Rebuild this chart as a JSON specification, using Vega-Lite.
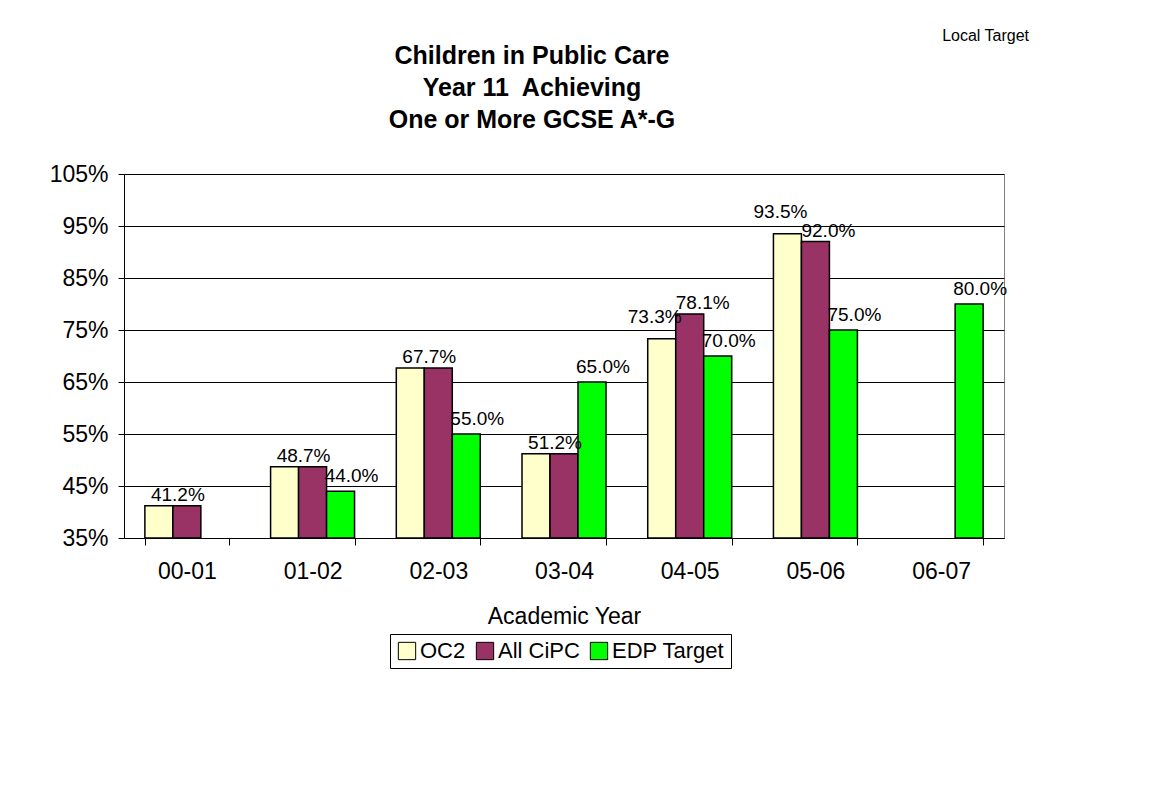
{
  "$schema": "https://vega.github.io/schema/vega-lite/v6.json",
  "background": "white",
  "padding": {"left": 48, "top": 27, "right": 10, "bottom": 10},
  "title": {"text": "Local Target", "anchor": "end", "frame": "group", "fontSize": 16, "fontWeight": "normal", "font": "Liberation Sans", "color": "black", "dx": 25, "offset": 0},
  "config": {
    "font": "Liberation Sans",
    "view": {"stroke": "#808080", "strokeWidth": 1},
    "axis": {"labelFont": "Liberation Sans", "labelFontSize": 23, "labelColor": "black", "titleFont": "Liberation Sans", "titleFontSize": 23, "titleFontWeight": "normal", "titleColor": "black", "domainColor": "black", "domainWidth": 1, "tickColor": "black", "tickWidth": 1},
    "legend": {"labelFont": "Liberation Sans", "labelFontSize": 22, "labelColor": "black"}
  },
  "vconcat": [
    {
      "width": 880,
      "height": 364,
      "title": {"text": ["Children in Public Care", "Year 11\u00a0 Achieving", "One or More GCSE A*-G"], "anchor": "middle", "frame": "group", "dx": -32, "font": "Liberation Sans", "fontSize": 25, "fontWeight": "bold", "lineHeight": 32, "color": "black", "offset": 30},
      "data": {"values": [
        {"year": "00-01", "series": "OC2", "value": 0.412},
        {"year": "00-01", "series": "All CiPC", "value": 0.412},
        {"year": "01-02", "series": "OC2", "value": 0.487},
        {"year": "01-02", "series": "All CiPC", "value": 0.487},
        {"year": "01-02", "series": "EDP Target", "value": 0.44},
        {"year": "02-03", "series": "OC2", "value": 0.677},
        {"year": "02-03", "series": "All CiPC", "value": 0.677},
        {"year": "02-03", "series": "EDP Target", "value": 0.55},
        {"year": "03-04", "series": "OC2", "value": 0.512},
        {"year": "03-04", "series": "All CiPC", "value": 0.512},
        {"year": "03-04", "series": "EDP Target", "value": 0.65},
        {"year": "04-05", "series": "OC2", "value": 0.733},
        {"year": "04-05", "series": "All CiPC", "value": 0.781},
        {"year": "04-05", "series": "EDP Target", "value": 0.70},
        {"year": "05-06", "series": "OC2", "value": 0.935},
        {"year": "05-06", "series": "All CiPC", "value": 0.92},
        {"year": "05-06", "series": "EDP Target", "value": 0.75},
        {"year": "06-07", "series": "EDP Target", "value": 0.80}
      ]},
      "encoding": {
        "x": {"field": "year", "type": "nominal", "sort": ["00-01", "01-02", "02-03", "03-04", "04-05", "05-06", "06-07"],
          "scale": {"domain": ["00-01", "01-02", "02-03", "03-04", "04-05", "05-06", "06-07"], "paddingInner": 0.332, "paddingOuter": 0.166},
          "axis": {"title": "Academic Year", "labelAngle": 0, "tickBand": "extent", "tickSize": 7, "labelPadding": 15, "titlePadding": 22, "grid": false}},
        "xOffset": {"field": "series", "type": "nominal", "sort": ["OC2", "All CiPC", "EDP Target"],
          "scale": {"domain": ["OC2", "All CiPC", "EDP Target"], "paddingInner": 0, "paddingOuter": 0}},
        "y": {"field": "value", "type": "quantitative",
          "scale": {"domain": [0.35, 1.05], "nice": false, "zero": false},
          "axis": {"title": null, "values": [0.35, 0.45, 0.55, 0.65, 0.75, 0.85, 0.95, 1.05], "format": ".0%", "grid": true, "gridColor": "black", "gridWidth": 1, "tickSize": 6, "labelPadding": 10}}
      },
      "layer": [
        {
          "mark": {"type": "bar", "stroke": "black", "strokeWidth": 1.5, "opacity": 1},
          "encoding": {
            "y2": {"datum": 0.35},
            "color": {"field": "series", "type": "nominal",
              "scale": {"domain": ["OC2", "All CiPC", "EDP Target"], "range": ["#FFFFCC", "#993366", "#00FF00"]},
              "legend": {"title": null, "orient": "none", "legendX": 266, "legendY": 460, "direction": "horizontal",
                "strokeColor": "black", "padding": 6, "symbolType": "square", "symbolSize": 300,
                "symbolStrokeColor": "black", "symbolStrokeWidth": 1, "symbolOpacity": 1, "columnPadding": 8, "labelOffset": 2}}
          }
        },
        {
          "transform": [
            {"filter": "datum.series !== 'EDP Target'"},
            {"joinaggregate": [{"op": "min", "field": "value", "as": "lo"}, {"op": "max", "field": "value", "as": "hi"}], "groupby": ["year"]},
            {"filter": "datum.lo === datum.hi && datum.series === 'OC2'"}
          ],
          "mark": {"type": "text", "fontSize": 19, "baseline": "alphabetic", "dy": -5, "dx": 19, "color": "black"},
          "encoding": {"text": {"field": "value", "type": "quantitative", "format": ".1%"}}
        },
        {
          "transform": [
            {"filter": "datum.series !== 'EDP Target'"},
            {"joinaggregate": [{"op": "min", "field": "value", "as": "lo"}, {"op": "max", "field": "value", "as": "hi"}], "groupby": ["year"]},
            {"filter": "datum.lo !== datum.hi && datum.series === 'OC2'"}
          ],
          "mark": {"type": "text", "fontSize": 19, "baseline": "alphabetic", "dy": -16, "dx": -7, "color": "black"},
          "encoding": {"text": {"field": "value", "type": "quantitative", "format": ".1%"}}
        },
        {
          "transform": [
            {"filter": "datum.series !== 'EDP Target'"},
            {"joinaggregate": [{"op": "min", "field": "value", "as": "lo"}, {"op": "max", "field": "value", "as": "hi"}], "groupby": ["year"]},
            {"filter": "datum.lo !== datum.hi && datum.series === 'All CiPC'"}
          ],
          "mark": {"type": "text", "fontSize": 19, "baseline": "alphabetic", "dy": -5, "dx": 13, "color": "black"},
          "encoding": {"text": {"field": "value", "type": "quantitative", "format": ".1%"}}
        },
        {
          "transform": [{"filter": "datum.series === 'EDP Target'"}],
          "mark": {"type": "text", "fontSize": 19, "baseline": "alphabetic", "dy": -9, "dx": 11, "color": "black"},
          "encoding": {"text": {"field": "value", "type": "quantitative", "format": ".1%"}}
        }
      ]
    }
  ]
}
